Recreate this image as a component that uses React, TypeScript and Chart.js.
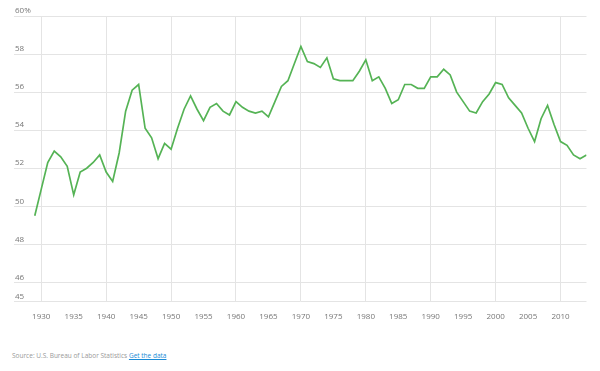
import React, { useEffect, useRef } from "react";
import { Chart, registerables } from "chart.js";

Chart.register(...registerables);

const years = [
  1929, 1930, 1931, 1932, 1933, 1934, 1935, 1936, 1937, 1938, 1939,
  1940, 1941, 1942, 1943, 1944, 1945, 1946, 1947, 1948, 1949,
  1950, 1951, 1952, 1953, 1954, 1955, 1956, 1957, 1958, 1959,
  1960, 1961, 1962, 1963, 1964, 1965, 1966, 1967, 1968, 1969,
  1970, 1971, 1972, 1973, 1974, 1975, 1976, 1977, 1978, 1979,
  1980, 1981, 1982, 1983, 1984, 1985, 1986, 1987, 1988, 1989,
  1990, 1991, 1992, 1993, 1994, 1995, 1996, 1997, 1998, 1999,
  2000, 2001, 2002, 2003, 2004, 2005, 2006, 2007, 2008, 2009,
  2010, 2011, 2012, 2013, 2014,
];

const values = [
  49.5, 50.9, 52.3, 52.9, 52.6, 52.1, 50.6, 51.8, 52.0, 52.3, 52.7,
  51.8, 51.3, 52.8, 55.0, 56.1, 56.4, 54.1, 53.6, 52.5, 53.3,
  53.0, 54.1, 55.1, 55.8, 55.1, 54.5, 55.2, 55.4, 55.0, 54.8,
  55.5, 55.2, 55.0, 54.9, 55.0, 54.7, 55.5, 56.3, 56.6, 57.5,
  58.4, 57.6, 57.5, 57.3, 57.8, 56.7, 56.6, 56.6, 56.6, 57.1,
  57.7, 56.6, 56.8, 56.2, 55.4, 55.6, 56.4, 56.4, 56.2, 56.2,
  56.8, 56.8, 57.2, 56.9, 56.0, 55.5, 55.0, 54.9, 55.5, 55.9,
  56.5, 56.4, 55.7, 55.3, 54.9, 54.1, 53.4, 54.6, 55.3, 54.3,
  53.4, 53.2, 52.7, 52.5, 52.7,
];

const xTickYears = [1930, 1935, 1940, 1945, 1950, 1955, 1960, 1965, 1970, 1975, 1980, 1985, 1990, 1995, 2000, 2005, 2010];
const xGridYears = [1930, 1940, 1950, 1960, 1970, 1980, 1990, 2000, 2010];
const yTicks = [45, 46, 48, 50, 52, 54, 56, 58, 60];

export default function App() {
  const ref = useRef<HTMLCanvasElement | null>(null);

  useEffect(() => {
    if (!ref.current) return;
    const chart = new Chart(ref.current, {
      type: "line",
      data: {
        datasets: [
          {
            data: years.map((yr, i) => ({ x: yr, y: values[i] })),
            borderColor: "#55b355",
            borderWidth: 1.7,
            pointRadius: 0,
            tension: 0,
            fill: false,
          },
        ],
      },
      options: {
        animation: false,
        responsive: false,
        devicePixelRatio: 1,
        layout: { padding: { left: 4, right: 5.5, top: 16, bottom: 0 } },
        plugins: { legend: { display: false }, tooltip: { enabled: false } },
        scales: {
          x: {
            type: "linear",
            min: 1925.8,
            max: 2014,
            afterBuildTicks: (scale: any) => {
              scale.ticks = xTickYears.map((v) => ({ value: v }));
            },
            ticks: {
              autoSkip: false,
              maxRotation: 0,
              padding: 11,
              color: "#777",
              font: { family: "Open Sans", size: 8 },
              callback: (v: any) => String(v),
            },
            grid: {
              drawTicks: false,
              color: (ctx: any) =>
                ctx.tick && xGridYears.includes(ctx.tick.value) ? "#e4e4e4" : "rgba(0,0,0,0)",
              lineWidth: 1,
            },
            border: { display: false },
          },
          y: {
            min: 45,
            max: 60,
            afterBuildTicks: (scale: any) => {
              scale.ticks = yTicks.map((v) => ({ value: v }));
            },
            ticks: {
              mirror: true,
              padding: 1,
              labelOffset: -5,
              color: "#777",
              font: { family: "Open Sans", size: 8 },
              callback: (v: any) => (v === 60 ? "60%" : String(v)),
            },
            grid: { drawTicks: false, color: "#e4e4e4", lineWidth: 1 },
            border: { display: false },
          },
        },
      },
    });
    return () => chart.destroy();
  }, []);

  return (
    <div style={{ fontFamily: "Open Sans" }}>
      <canvas ref={ref} width={584} height={333} style={{ display: "block", marginTop: -8 }} />
      <div style={{ marginTop: 18, marginLeft: 4, fontSize: 6.5, lineHeight: "10px", color: "#999" }}>
        Source: U.S. Bureau of Labor Statistics{" "}
        <a href="#" style={{ color: "#1a8bd6", textDecoration: "underline" }}>Get the data</a>
      </div>
    </div>
  );
}
